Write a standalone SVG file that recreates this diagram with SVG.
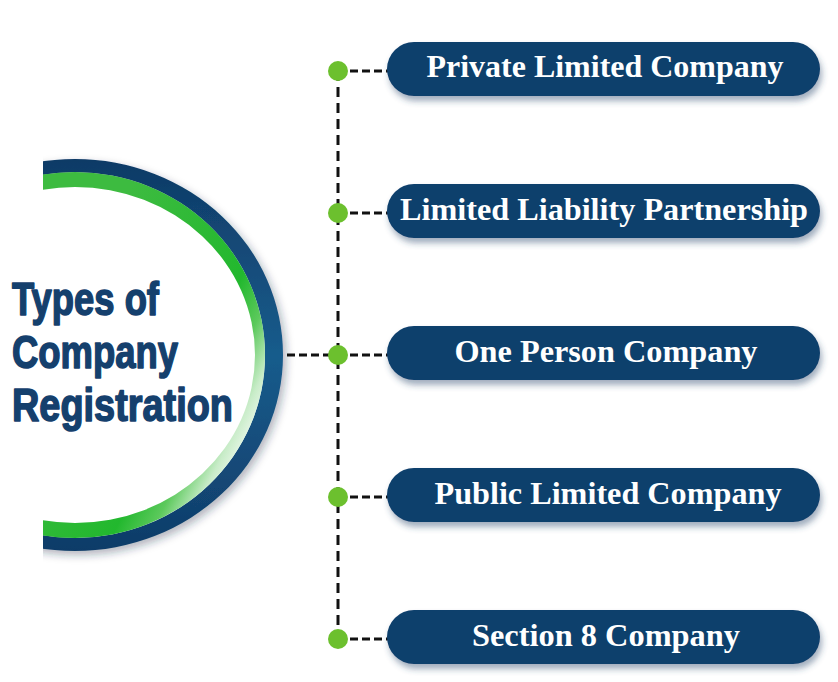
<svg xmlns="http://www.w3.org/2000/svg" width="838" height="682" viewBox="0 0 838 682">
  <defs>
    <style>
      .pill { fill: #113f6c; filter: url(#pillShadow); }
      .pillText { fill: #ffffff; font-family: "Liberation Serif", "Times New Roman", serif; font-weight: bold; font-size: 32px; text-anchor: middle; }
      .title { fill: #15406d; stroke: #15406d; stroke-width: 1.6; stroke-linejoin: round; font-family: "Liberation Sans", Arial, sans-serif; font-weight: bold; font-size: 47px; }
      .dashV { stroke: #111111; stroke-width: 3; stroke-dasharray: 10 6; fill: none; }
      .dashH { stroke: #111111; stroke-width: 3; stroke-dasharray: 8 4; fill: none; }
      .dot { fill: #6cc02e; }
    </style>
    <filter id="pillShadow" x="-10%" y="-30%" width="120%" height="180%">
      <feDropShadow dx="2" dy="5" stdDeviation="3" flood-color="#2a4a6e" flood-opacity="0.45"/>
    </filter>
    <filter id="arcShadow" x="-20%" y="-20%" width="140%" height="140%">
      <feDropShadow dx="3" dy="4" stdDeviation="4" flood-color="#1a2e45" flood-opacity="0.35"/>
    </filter>
    <linearGradient id="navyGrad" x1="0" y1="160" x2="0" y2="552" gradientUnits="userSpaceOnUse">
      <stop offset="0" stop-color="#0f3a66"/>
      <stop offset="0.5" stop-color="#185c8c"/>
      <stop offset="1" stop-color="#0f3b68"/>
    </linearGradient>
    <linearGradient id="greenGrad" x1="100" y1="250" x2="300" y2="350" gradientUnits="userSpaceOnUse">
      <stop offset="0" stop-color="#3dbb40"/>
      <stop offset="0.62" stop-color="#22b82e"/>
      <stop offset="0.77" stop-color="#5cc95c"/>
      <stop offset="0.9" stop-color="#c8ecc8"/>
      <stop offset="1" stop-color="#f4fbf4"/>
    </linearGradient>
    <clipPath id="arcClip">
      <rect x="43" y="100" width="300" height="500"/>
    </clipPath>
  </defs>

  <rect x="0" y="0" width="838" height="682" fill="#ffffff"/>

  <g id="title-node">
    <g clip-path="url(#arcClip)">
      <path filter="url(#arcShadow)" fill="url(#navyGrad)" fill-rule="evenodd"
        d="M 283 355 A 208 196 0 1 0 -133 355 A 208 196 0 1 0 283 355 Z
           M 265 355 A 190 183 0 1 0 -115 355 A 190 183 0 1 0 265 355 Z"/>
      <path fill="url(#greenGrad)" fill-rule="evenodd"
        d="M 265 355 A 190 183 0 1 0 -115 355 A 190 183 0 1 0 265 355 Z
           M 255 355 A 180 168 0 1 0 -105 355 A 180 168 0 1 0 255 355 Z"/>
    </g>
    <text class="title" x="12" y="315" textLength="147" lengthAdjust="spacingAndGlyphs">Types of</text>
    <text class="title" x="12" y="368" textLength="166" lengthAdjust="spacingAndGlyphs">Company</text>
    <text class="title" x="12" y="421" textLength="221" lengthAdjust="spacingAndGlyphs">Registration</text>
  </g>

  <g id="connectors">
    <line class="dashV" x1="338" y1="71" x2="338" y2="639"/>
    <line class="dashH" x1="287" y1="355" x2="338" y2="355"/>
    <line class="dashH" x1="338" y1="71" x2="388" y2="71"/>
    <line class="dashH" x1="338" y1="213" x2="388" y2="213"/>
    <line class="dashH" x1="338" y1="355" x2="388" y2="355"/>
    <line class="dashH" x1="338" y1="497" x2="388" y2="497"/>
    <line class="dashH" x1="338" y1="639" x2="388" y2="639"/>
    <circle class="dot" cx="338" cy="71" r="10"/>
    <circle class="dot" cx="338" cy="213" r="10"/>
    <circle class="dot" cx="338" cy="355" r="10"/>
    <circle class="dot" cx="338" cy="497" r="10"/>
    <circle class="dot" cx="338" cy="639" r="10"/>
  </g>

  <g id="node-private">
    <rect class="pill" x="387" y="42" width="433" height="54" rx="27"/>
    <text class="pillText" x="605" y="77" textLength="357" lengthAdjust="spacingAndGlyphs">Private Limited Company</text>
  </g>
  <g id="node-llp">
    <rect class="pill" x="387" y="184" width="433" height="54" rx="27"/>
    <text class="pillText" x="604" y="220" textLength="408" lengthAdjust="spacingAndGlyphs">Limited Liability Partnership</text>
  </g>
  <g id="node-opc">
    <rect class="pill" x="387" y="326" width="433" height="54" rx="27"/>
    <text class="pillText" x="606" y="362" textLength="303" lengthAdjust="spacingAndGlyphs">One Person Company</text>
  </g>
  <g id="node-public">
    <rect class="pill" x="387" y="468" width="433" height="54" rx="27"/>
    <text class="pillText" x="608" y="504" textLength="347" lengthAdjust="spacingAndGlyphs">Public Limited Company</text>
  </g>
  <g id="node-section8">
    <rect class="pill" x="387" y="610" width="433" height="54" rx="27"/>
    <text class="pillText" x="606" y="646" textLength="268" lengthAdjust="spacingAndGlyphs">Section 8 Company</text>
  </g>
</svg>
